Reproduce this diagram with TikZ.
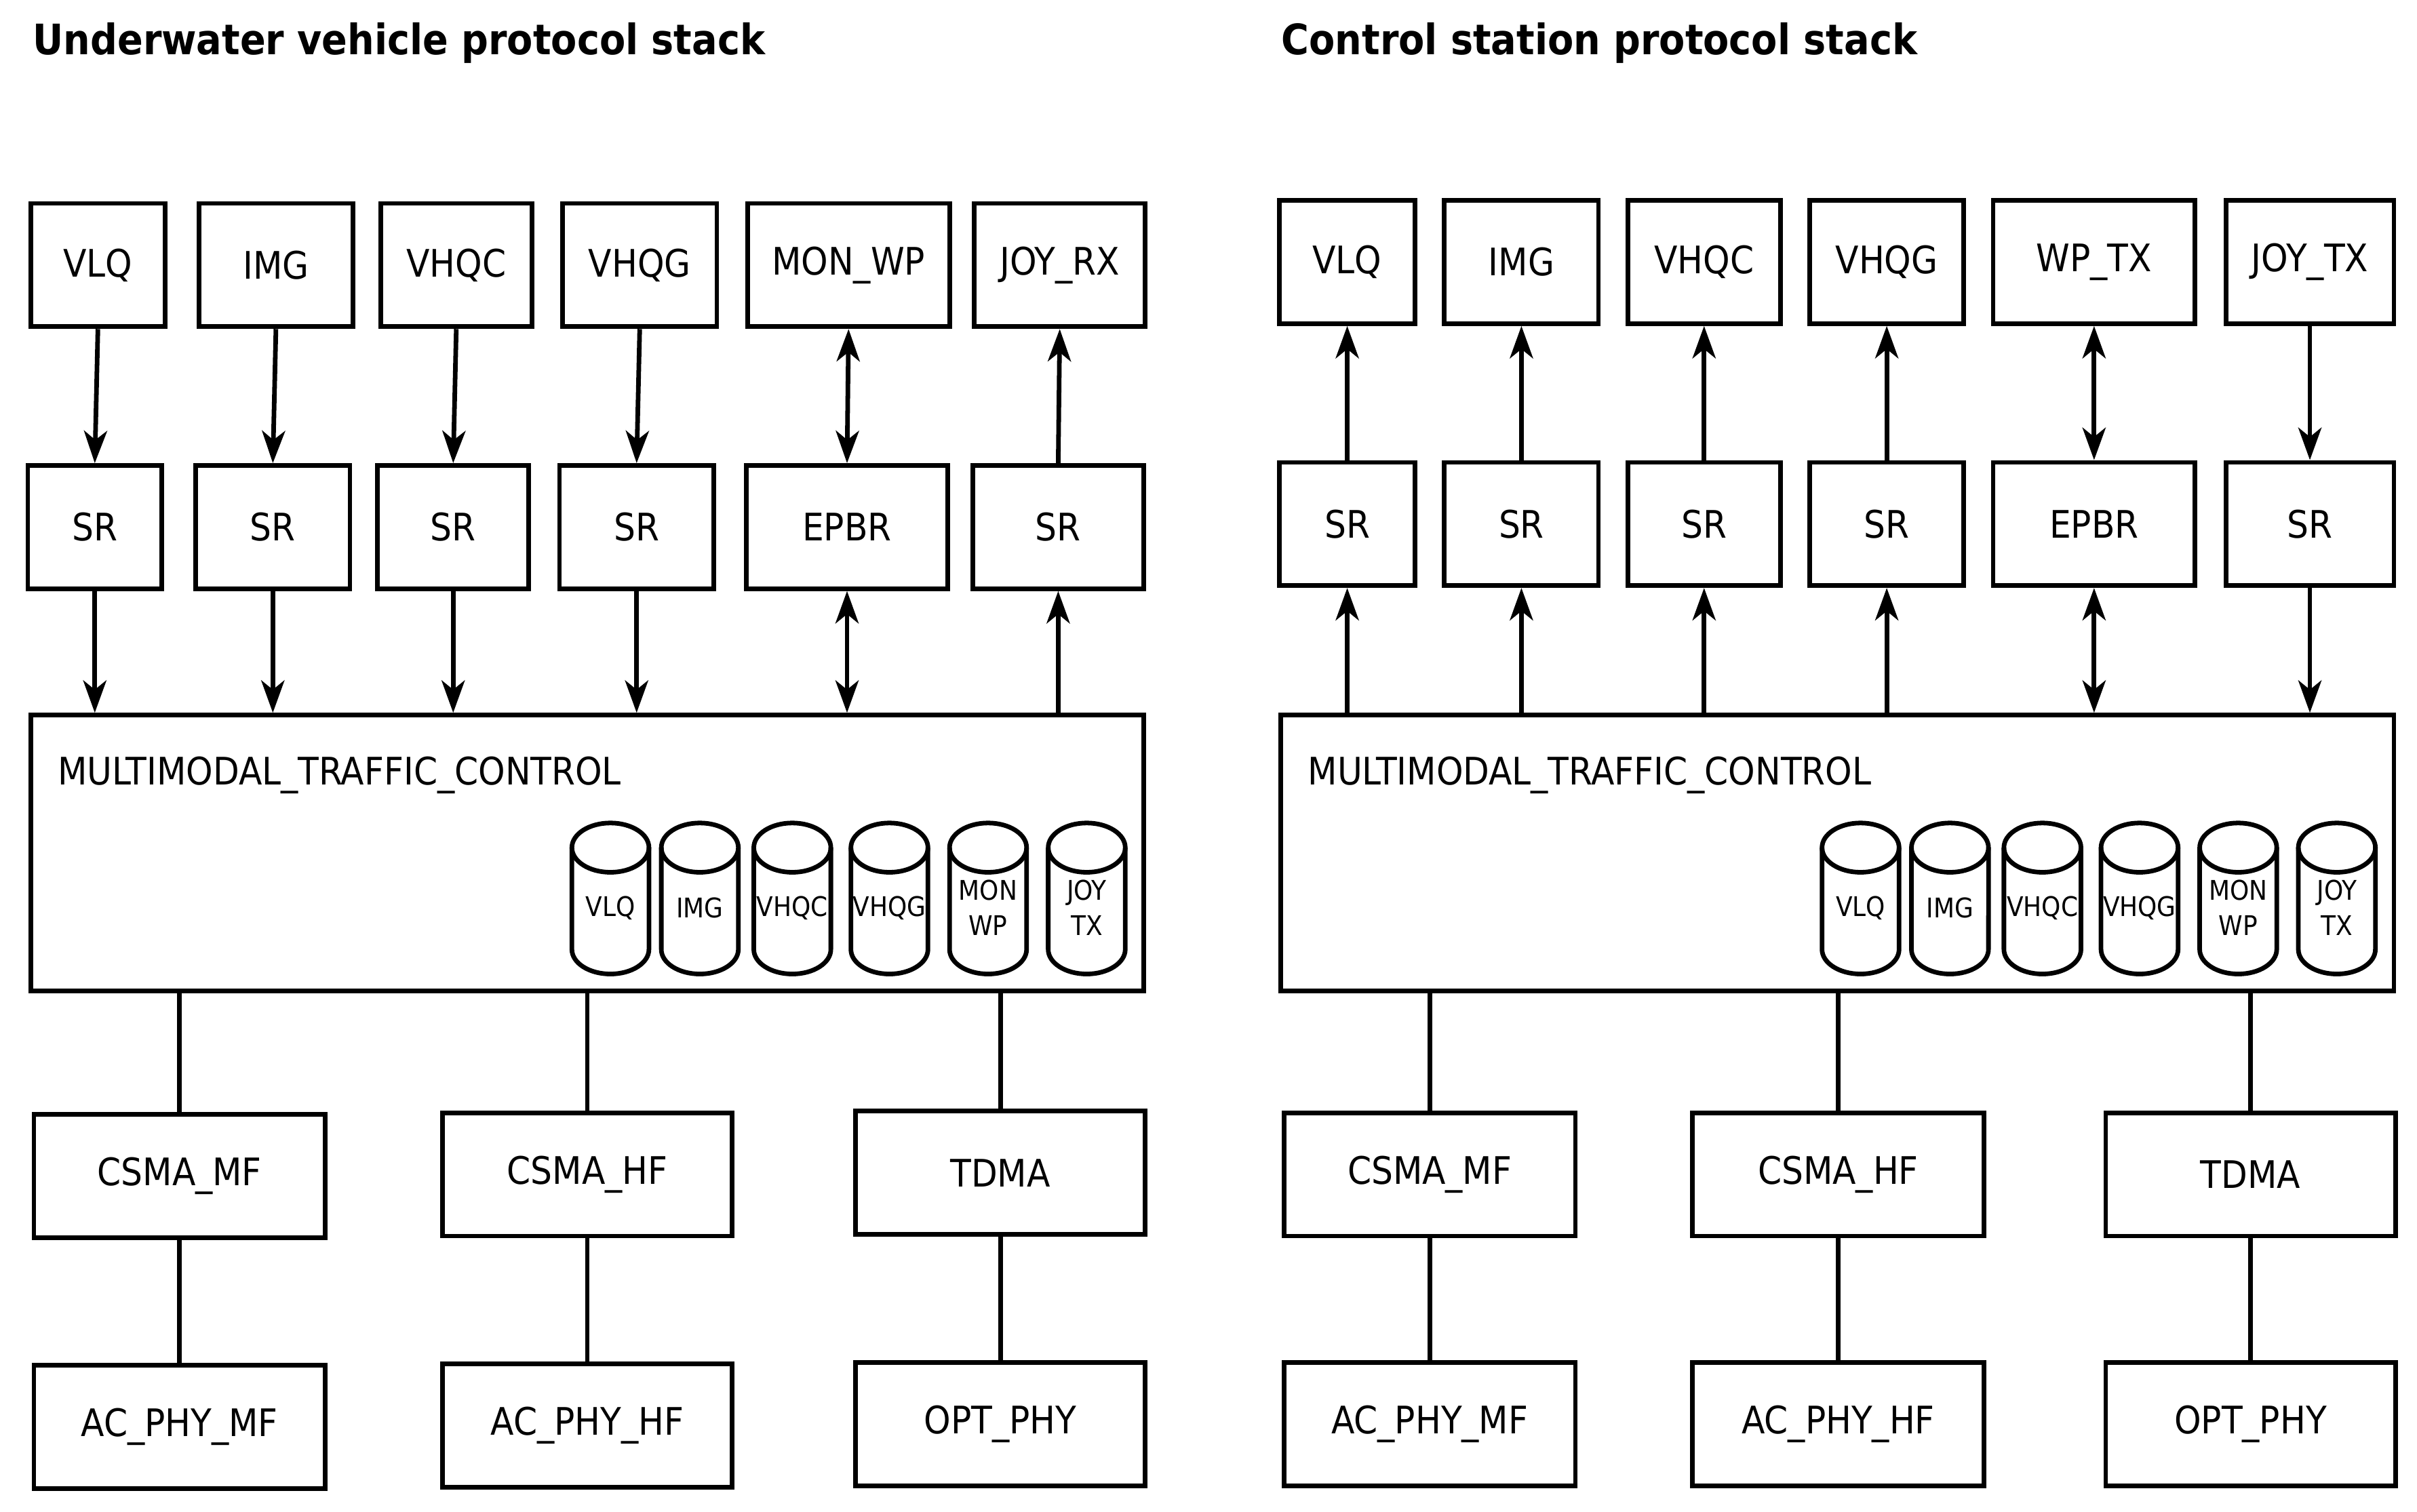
\documentclass[tikz,border=0pt]{standalone}
\usepackage{fontspec}
\setmainfont{DejaVu Sans Condensed}
\usetikzlibrary{arrows.meta}
\begin{document}
\begin{tikzpicture}[x=0.02cm,y=-0.02cm,
  line width=1.7pt,
  box/.style={draw,inner sep=0pt,font=\fontsize{14}{16}\selectfont},
  cyl/.style={inner sep=0pt,align=center,font=\fontsize{10}{13}\selectfont},
  ttl/.style={anchor=west,font=\bfseries\fontsize{15.5}{18}\selectfont},
  arr/.style={-{Stealth[length=0.42cm,width=0.3cm,inset=0.12cm]}},
  barr/.style={{Stealth[length=0.42cm,width=0.3cm,inset=0.12cm]}-{Stealth[length=0.42cm,width=0.3cm,inset=0.12cm]}},
  pics/cylpic/.style={code={
    \draw (-25,-32) -- (-25,34) arc[start angle=180,end angle=360,x radius=0.5cm,y radius=0.32cm] -- (25,-32);
    \draw (0,-32) ellipse [x radius=0.5cm,y radius=0.32cm];
  }}]
\useasboundingbox (0,0) rectangle (1568,981);
\newcommand{\bx}[6]{\node[box,minimum width={(#4-#3)*0.02cm},minimum height={(#6-#5)*0.02cm}] (#1) at ({(#3+#4)/2},{(#5+#6)/2}) {#2};}
\newcommand{\cy}[4]{\pic at (#2,582) {cylpic}; \node[cyl] (#1) at (#2,#4) {#3};}

% titles
\node[ttl] (t1) at (14,28) {Underwater vehicle protocol stack};
\node[ttl] (t2) at (824,28) {Control station protocol stack};

% ===== left stack =====
\bx{la1}{VLQ}{20}{107}{132}{212}
\bx{la2}{IMG}{129}{229}{132}{212}
\bx{la3}{VHQC}{247}{345}{132}{212}
\bx{la4}{VHQG}{365}{465}{132}{212}
\bx{la5}{MON\_WP}{485}{616}{132}{212}
\bx{la6}{JOY\_RX}{632}{743}{132}{212}
\bx{lb1}{SR}{18}{105}{302}{382}
\bx{lb2}{SR}{127}{227}{302}{382}
\bx{lb3}{SR}{245}{343}{302}{382}
\bx{lb4}{SR}{363}{463}{302}{382}
\bx{lb5}{EPBR}{484}{615}{302}{382}
\bx{lb6}{SR}{631}{742}{302}{382}
\node[box,minimum width={722*0.02cm},minimum height={179*0.02cm}] (lm) at (381,553.5) {};
\node[anchor=west,font=\fontsize{14}{16}\selectfont,inner sep=0pt] (lml) at (36,503) {MULTIMODAL\_TRAFFIC\_CONTROL};
\cy{lc1}{396}{VLQ}{589}
\cy{lc2}{454}{IMG}{589}
\cy{lc3}{514}{VHQC}{589}
\cy{lc4}{577}{VHQG}{589}
\cy{lc5}{641}{MON\\WP}{589}
\cy{lc6}{705}{JOY\\TX}{589}
\bx{ld1}{CSMA\_MF}{22}{211}{723}{803}
\bx{ld2}{CSMA\_HF}{287}{475}{722}{802}
\bx{ld3}{TDMA}{555}{743}{721}{801}
\bx{le1}{AC\_PHY\_MF}{22}{211}{886}{966}
\bx{le2}{AC\_PHY\_HF}{287}{475}{885}{965}
\bx{le3}{OPT\_PHY}{555}{743}{884}{964}
\foreach \i in {1,...,4}{
  \draw[arr] (la\i.south) -- (lb\i.north);
  \draw[arr] (lb\i.south) -- (lb\i.south |- lm.north);}
\draw[barr] (la5.south) -- (lb5.north);
\draw[barr] (lb5.south) -- (lb5.south |- lm.north);
\draw[arr] (lb6.north) -- (la6.south);
\draw[arr] (lm.north -| lb6.south) -- (lb6.south);
\foreach \i in {1,2,3}{
  \draw (ld\i.north |- lm.south) -- (ld\i.north);
  \draw (ld\i.south) -- (le\i.north);}

% ===== right stack =====
\bx{ra1}{VLQ}{830}{918}{130}{210}
\bx{ra2}{IMG}{937}{1037}{130}{210}
\bx{ra3}{VHQC}{1056}{1155}{130}{210}
\bx{ra4}{VHQG}{1174}{1274}{130}{210}
\bx{ra5}{WP\_TX}{1293}{1424}{130}{210}
\bx{ra6}{JOY\_TX}{1444}{1553}{130}{210}
\bx{rb1}{SR}{830}{918}{300}{380}
\bx{rb2}{SR}{937}{1037}{300}{380}
\bx{rb3}{SR}{1056}{1155}{300}{380}
\bx{rb4}{SR}{1174}{1274}{300}{380}
\bx{rb5}{EPBR}{1293}{1424}{300}{380}
\bx{rb6}{SR}{1444}{1553}{300}{380}
\node[box,minimum width={722*0.02cm},minimum height={179*0.02cm}] (rm) at (1192,553.5) {};
\node[anchor=west,font=\fontsize{14}{16}\selectfont,inner sep=0pt] (rml) at (847,503) {MULTIMODAL\_TRAFFIC\_CONTROL};
\cy{rc1}{1207}{VLQ}{589}
\cy{rc2}{1265}{IMG}{589}
\cy{rc3}{1325}{VHQC}{589}
\cy{rc4}{1388}{VHQG}{589}
\cy{rc5}{1452}{MON\\WP}{589}
\cy{rc6}{1516}{JOY\\TX}{589}
\bx{rd1}{CSMA\_MF}{833}{1022}{722}{802}
\bx{rd2}{CSMA\_HF}{1098}{1287}{722}{802}
\bx{rd3}{TDMA}{1366}{1554}{722}{802}
\bx{re1}{AC\_PHY\_MF}{833}{1022}{884}{964}
\bx{re2}{AC\_PHY\_HF}{1098}{1287}{884}{964}
\bx{re3}{OPT\_PHY}{1366}{1554}{884}{964}
\foreach \i in {1,...,4}{
  \draw[arr] (rb\i.north) -- (ra\i.south);
  \draw[arr] (rm.north -| rb\i.south) -- (rb\i.south);}
\draw[barr] (ra5.south) -- (rb5.north);
\draw[barr] (rb5.south) -- (rb5.south |- rm.north);
\draw[arr] (ra6.south) -- (rb6.north);
\draw[arr] (rb6.south) -- (rb6.south |- rm.north);
\foreach \i in {1,2,3}{
  \draw (rd\i.north |- rm.south) -- (rd\i.north);
  \draw (rd\i.south) -- (re\i.north);}
\end{tikzpicture}
\end{document}
